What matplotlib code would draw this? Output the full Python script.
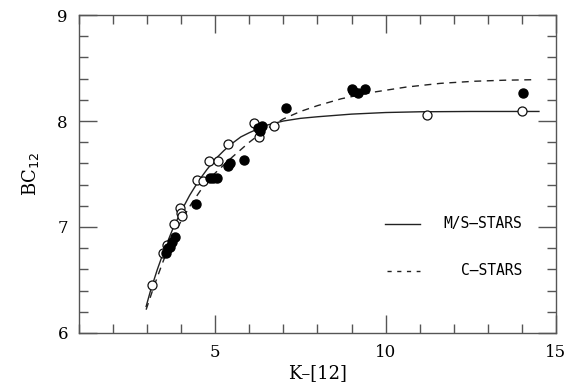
import numpy as np
import matplotlib
matplotlib.use("Agg")
import matplotlib.pyplot as plt
from matplotlib.ticker import MultipleLocator

# M/S stars (open circles)
ms_x = [3.15, 3.47, 3.57, 3.79, 3.96, 4.00, 4.02, 4.45, 4.65, 4.83, 5.09, 5.38,
        6.14, 6.29, 6.72, 11.2, 13.99]
ms_y = [6.45, 6.75, 6.83, 7.03, 7.18, 7.13, 7.10, 7.44, 7.43, 7.62, 7.62, 7.78,
        7.98, 7.85, 7.95, 8.06, 8.09]

# C stars (filled circles)
c_x = [3.54, 3.60, 3.67, 3.72, 3.82, 4.43, 4.85, 4.94, 5.06, 5.38, 5.43, 5.84,
       6.26, 6.36, 6.31, 7.07, 9.00, 9.05, 9.20, 9.39, 14.04]
c_y = [6.75, 6.80, 6.81, 6.86, 6.91, 7.22, 7.46, 7.46, 7.46, 7.58, 7.60, 7.63,
       7.93, 7.95, 7.91, 8.12, 8.30, 8.28, 8.26, 8.30, 8.26]

# fitted relations
ms_fit_x = [2.97, 3.1, 3.3, 3.5, 3.75, 4.0, 4.25, 4.5, 4.75, 5.0, 5.25, 5.5,
            5.75, 6.0, 6.5, 7.0, 7.5, 8.0, 9.0, 10.0, 11.0, 12.5, 14.5]
ms_fit_y = [6.25, 6.40, 6.60, 6.78, 6.98, 7.15, 7.30, 7.43, 7.54, 7.64, 7.72,
            7.79, 7.85, 7.89, 7.96, 8.00, 8.025, 8.04, 8.065, 8.08, 8.087,
            8.09, 8.09]

c_fit_x = [2.97, 3.2, 3.45, 3.7, 4.0, 4.3, 4.6, 5.0, 5.5, 6.0, 6.5, 7.0, 7.5,
           8.0, 8.7, 9.6, 10.6, 11.6, 12.6, 13.5, 14.4]
c_fit_y = [6.22, 6.44, 6.66, 6.86, 7.06, 7.22, 7.36, 7.51, 7.66, 7.80, 7.925,
           8.02, 8.09, 8.145, 8.21, 8.27, 8.32, 8.355, 8.375, 8.385, 8.39]

plt.rcParams['font.family'] = ['DejaVu Serif']

fig = plt.figure(figsize=(5.7, 3.9), dpi=100)
ax = fig.add_axes([0.1386, 0.1462, 0.8368, 0.8153])

ax.plot(ms_fit_x, ms_fit_y, color='#222222', lw=1.0)
ax.plot(c_fit_x, c_fit_y, color='#222222', lw=1.0, dashes=(5, 4))

ax.plot(ms_x, ms_y, 'o', mfc='white', mec='#111111', mew=0.9, ms=6.5)
ax.plot(c_x, c_y, 'o', mfc='black', mec='black', ms=6.5)

# legend drawn by hand like the original
ax.plot([9.98, 11.0], [7.03, 7.03], color='#222222', lw=1.0)
ax.text(14.0, 7.03, 'M/S\u2013STARS', ha='right', va='center', fontsize=10.5,
        family='DejaVu Sans Mono')
ax.plot([10.05, 11.0], [6.585, 6.585], color='#222222', lw=1.0, dashes=(3, 4))
ax.text(14.0, 6.585, 'C\u2013STARS', ha='right', va='center', fontsize=10.5,
        family='DejaVu Sans Mono')

ax.set_xlim(1, 15)
ax.set_ylim(6, 9)
ax.xaxis.set_major_locator(MultipleLocator(5))
ax.xaxis.set_minor_locator(MultipleLocator(1))
ax.yaxis.set_major_locator(MultipleLocator(1))
ax.yaxis.set_minor_locator(MultipleLocator(0.2))
ax.tick_params(which='both', direction='in', top=True, right=True,
               color='#555555', width=1.0)
ax.tick_params(which='major', length=13, labelsize=12, pad=8)
ax.tick_params(which='minor', length=6.5)
ax.set_xticks([5, 10, 15])
for s in ax.spines.values():
    s.set_color('#555555')
    s.set_linewidth(1.0)

ax.set_xlabel('K\u2013[12]', fontsize=13, labelpad=2)
ax.set_ylabel('BC$_{12}$', fontsize=13, labelpad=12)

fig.savefig('out.png', dpi=100)
